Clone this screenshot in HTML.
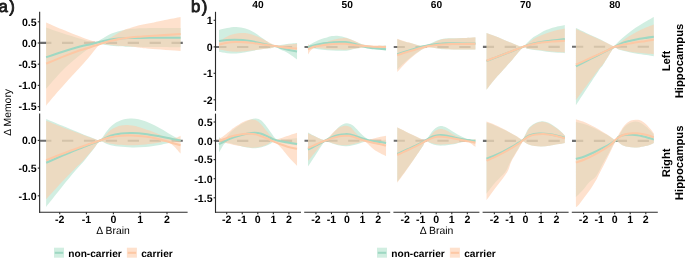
<!DOCTYPE html>
<html lang="en">
<head>
<meta charset="utf-8">
<title>Figure: memory change vs brain change by carrier status</title>
<style>
html,body{margin:0;padding:0;background:#fff;}
body{width:685px;height:262px;overflow:hidden;font-family:"Liberation Sans",sans-serif;}
svg{display:block;will-change:transform;}
svg text{font-family:"Liberation Sans",sans-serif;text-rendering:geometricPrecision;}
</style>
</head>
<body>
<svg width="685" height="262" viewBox="0 0 685 262" role="img" aria-label="Change in memory versus change in brain volume by carrier status">
<rect width="685" height="262" fill="#fff"/>
<defs>
<clipPath id="ca1"><rect x="39.1" y="11.8" width="148.5" height="99.1"/></clipPath>
<clipPath id="ca2"><rect x="39.1" y="113.6" width="148.5" height="98.4"/></clipPath>
<clipPath id="cb11"><rect x="215" y="11.8" width="86" height="99.1"/></clipPath>
<clipPath id="cb21"><rect x="304.2" y="11.8" width="86" height="99.1"/></clipPath>
<clipPath id="cb31"><rect x="393.4" y="11.8" width="86" height="99.1"/></clipPath>
<clipPath id="cb41"><rect x="482.6" y="11.8" width="86" height="99.1"/></clipPath>
<clipPath id="cb51"><rect x="571.8" y="11.8" width="86" height="99.1"/></clipPath>
<clipPath id="cb12"><rect x="215" y="113.6" width="86" height="98.4"/></clipPath>
<clipPath id="cb22"><rect x="304.2" y="113.6" width="86" height="98.4"/></clipPath>
<clipPath id="cb32"><rect x="393.4" y="113.6" width="86" height="98.4"/></clipPath>
<clipPath id="cb42"><rect x="482.6" y="113.6" width="86" height="98.4"/></clipPath>
<clipPath id="cb52"><rect x="571.8" y="113.6" width="86" height="98.4"/></clipPath>
</defs>
<g clip-path="url(#ca1)">
<line x1="40.1" y1="42.9" x2="187.6" y2="42.9" stroke="#6e6e6e" stroke-width="2.1" stroke-dasharray="11.3 10.6"/>
<path d="M46.13 27.52C48.76 28.43 56.35 31.17 61.9 32.99C67.45 34.82 74.31 36.97 79.42 38.47C84.53 39.96 89.38 41.57 92.55 41.97C95.73 42.37 96.46 41.64 98.47 40.88C100.47 40.11 102.77 38.43 104.6 37.37C106.42 36.31 107.88 35.29 109.42 34.53C110.95 33.76 112.26 33.32 113.8 32.77C115.33 32.23 117.01 31.68 118.61 31.24C120.22 30.8 121.2 30.55 123.43 30.15C125.66 29.74 128.72 29.16 131.97 28.83C135.22 28.5 138.54 28.32 142.92 28.18C147.3 28.03 151.97 27.99 158.25 27.96C164.53 27.92 176.86 27.96 180.58 27.96L180.58 47.23C175.4 47.19 158.32 47.08 149.49 47.01C140.66 46.93 133.07 46.9 127.59 46.79C122.12 46.68 120.29 46.64 116.64 46.35C112.99 46.06 108.61 45.51 105.69 45.04C102.77 44.56 101.5 43.21 99.12 43.5C96.75 43.8 94.64 44.85 91.46 46.79C88.28 48.72 83.91 52.12 80.07 55.11C76.24 58.1 72.23 61.31 68.47 64.74C64.71 68.18 61.24 71.68 57.52 75.69C53.8 79.71 48.03 86.64 46.13 88.83Z" fill="#B3E2CD" fill-opacity="0.6"/>
<path d="M46.13 22.48C48.76 23.61 56.35 26.97 61.9 29.27C67.45 31.57 74.31 34.34 79.42 36.28C84.53 38.21 88.76 39.96 92.55 40.88C96.35 41.79 99.45 42.12 102.19 41.75C104.93 41.39 107.04 39.67 108.98 38.69C110.91 37.7 112.19 36.82 113.8 35.84C115.4 34.85 117.01 33.69 118.61 32.77C120.22 31.86 121.82 31.06 123.43 30.36C125.04 29.67 126.5 29.23 128.25 28.61C130 27.99 131.5 27.34 133.94 26.64C136.39 25.95 139.6 25.15 142.92 24.45C146.24 23.76 150.22 23.21 153.87 22.48C157.52 21.75 160.36 20.99 164.82 20.07C169.27 19.16 177.96 17.52 180.58 17.01L180.58 50.95C175.4 50.58 156.61 49.34 149.49 48.76C142.37 48.18 141.42 47.85 137.88 47.45C134.34 47.04 131.46 46.64 128.25 46.35C125.04 46.06 121.82 45.95 118.61 45.69C115.4 45.44 111.57 45.15 108.98 44.82C106.39 44.49 104.71 43.69 103.07 43.72C101.42 43.76 101.17 43.18 99.12 45.04C97.08 46.9 93.98 51.17 90.8 54.89C87.63 58.61 83.8 63.25 80.07 67.37C76.35 71.5 72.23 75.51 68.47 79.64C64.71 83.76 61.24 87.77 57.52 92.12C53.8 96.46 48.03 103.43 46.13 105.69Z" fill="#FDCDAC" fill-opacity="0.6"/>
<path d="M46.13 57.3C48.76 56.42 56.24 53.83 61.9 52.04C67.55 50.26 75.44 47.85 80.07 46.57C84.71 45.29 86.5 45.15 89.71 44.38C92.92 43.61 96.13 42.74 99.34 41.97C102.55 41.2 105.77 40.36 108.98 39.78C112.19 39.2 115.4 38.76 118.61 38.47C121.82 38.18 125.04 38.1 128.25 38.03C131.46 37.96 134.34 38.07 137.88 38.03C141.42 37.99 142.37 37.85 149.49 37.81C156.61 37.77 175.4 37.81 180.58 37.81" fill="none" stroke="#9ED8C3" stroke-opacity="1.0" stroke-width="2.05"/>
<path d="M46.13 63.65C48.76 62.55 56.24 59.31 61.9 57.08C67.55 54.85 75.44 51.9 80.07 50.29C84.71 48.69 86.5 48.47 89.71 47.45C92.92 46.42 96.13 45.18 99.34 44.16C102.55 43.14 105.77 42.15 108.98 41.31C112.19 40.47 115.4 39.71 118.61 39.12C121.82 38.54 125.04 38.21 128.25 37.81C131.46 37.41 134.34 37.01 137.88 36.72C141.42 36.42 142.37 36.5 149.49 36.06C156.61 35.62 175.4 34.42 180.58 34.09" fill="none" stroke="#FDC8A5" stroke-opacity="1.0" stroke-width="2.05"/>
</g>
<g clip-path="url(#ca2)">
<line x1="40.1" y1="140.7" x2="187.6" y2="140.7" stroke="#6e6e6e" stroke-width="2.1" stroke-dasharray="11.3 10.6"/>
<path d="M46.13 119.01C48.76 120.1 56.35 123.28 61.9 125.58C67.45 127.88 74.09 130.65 79.42 132.8C84.74 134.96 90.44 137.29 93.87 138.5C97.3 139.7 97.92 141.16 100 140.03C102.08 138.9 104.31 134.19 106.35 131.71C108.39 129.23 109.82 127.04 112.26 125.14C114.71 123.24 118.1 121.42 121.02 120.32C123.94 119.23 126.86 118.75 129.78 118.57C132.7 118.39 135.26 118.5 138.54 119.23C141.82 119.96 145.84 121.42 149.49 122.95C153.14 124.48 156.79 126.42 160.44 128.42C164.09 130.43 168.03 133.06 171.39 134.99C174.74 136.93 179.05 139.19 180.58 140.03L180.58 141.12C178.69 141.45 172.92 142.4 169.2 143.09C165.47 143.79 162.26 144.63 158.25 145.28C154.23 145.94 149.49 146.67 145.11 147.04C140.73 147.4 136.35 147.55 131.97 147.47C127.59 147.4 122.77 147.11 118.83 146.6C114.89 146.09 111.46 145.25 108.32 144.41C105.18 143.57 102.41 140.83 100 141.56C97.59 142.29 96.39 145.72 93.87 148.79C91.35 151.85 88.03 156.23 84.89 159.96C81.75 163.68 78.87 166.6 75.04 171.12C71.2 175.65 66.72 181.12 61.9 187.11C57.08 193.09 48.76 203.72 46.13 207.04Z" fill="#B3E2CD" fill-opacity="0.6"/>
<path d="M46.13 120.76C48.76 121.78 56.35 124.77 61.9 126.89C67.45 129.01 74.09 131.49 79.42 133.46C84.74 135.43 90.44 137.62 93.87 138.72C97.3 139.81 97.88 140.83 100 140.03C102.12 139.23 104.53 135.72 106.57 133.9C108.61 132.07 109.85 130.47 112.26 129.08C114.67 127.69 118.1 126.23 121.02 125.58C123.94 124.92 126.86 124.92 129.78 125.14C132.7 125.36 135.26 125.98 138.54 126.89C141.82 127.8 145.84 129.26 149.49 130.61C153.14 131.96 157.15 133.72 160.44 134.99C163.72 136.27 166.64 137.8 169.2 138.28C171.75 138.75 173.87 138.28 175.77 137.84C177.66 137.4 179.78 136.01 180.58 135.65L180.58 153.61C179.42 152.33 175.84 147.95 173.58 145.94C171.31 143.93 169.56 142.11 167.01 141.56C164.45 141.01 161.9 142.18 158.25 142.66C154.6 143.13 149.49 143.97 145.11 144.41C140.73 144.85 136.35 145.21 131.97 145.28C127.59 145.36 122.77 145.18 118.83 144.85C114.89 144.52 111.46 143.9 108.32 143.31C105.18 142.73 102.41 140.5 100 141.34C97.59 142.18 96.57 145.25 93.87 148.35C91.17 151.45 86.93 156.6 83.8 159.96C80.66 163.31 78.69 164.81 75.04 168.5C71.39 172.18 66.72 176.93 61.9 182.07C57.08 187.22 48.76 196.49 46.13 199.37Z" fill="#FDCDAC" fill-opacity="0.6"/>
<path d="M46.13 162.8C48.76 161.64 56.35 158.17 61.9 155.8C67.45 153.42 73.07 151.12 79.42 148.57C85.77 146.01 94.82 142.62 100 140.47C105.18 138.31 107.01 136.82 110.51 135.65C114.01 134.48 117.45 133.9 121.02 133.46C124.6 133.02 127.96 132.95 131.97 133.02C135.99 133.09 140.73 133.39 145.11 133.9C149.49 134.41 153.87 135.28 158.25 136.09C162.63 136.89 167.66 137.99 171.39 138.72C175.11 139.45 179.05 140.18 180.58 140.47" fill="none" stroke="#9ED8C3" stroke-opacity="1.0" stroke-width="2.05"/>
<path d="M46.13 160.18C48.76 159.15 56.35 156.16 61.9 154.04C67.45 151.93 73.07 149.74 79.42 147.47C85.77 145.21 94.82 142.18 100 140.47C105.18 138.75 107.01 137.99 110.51 137.18C114.01 136.38 117.45 135.94 121.02 135.65C124.6 135.36 127.96 135.28 131.97 135.43C135.99 135.58 140.73 135.94 145.11 136.53C149.49 137.11 153.87 137.91 158.25 138.93C162.63 139.96 167.66 141.6 171.39 142.66C175.11 143.72 179.05 144.85 180.58 145.28" fill="none" stroke="#FDC8A5" stroke-opacity="1.0" stroke-width="2.05"/>
</g>
<g clip-path="url(#cb11)">
<line x1="215.15" y1="47" x2="301" y2="47" stroke="#6e6e6e" stroke-width="2.1" stroke-dasharray="11.3 10.6"/>
<path d="M218.99 29.91C220.35 29.58 224.25 28.45 227.14 27.94C230.03 27.44 233.27 26.78 236.34 26.89C239.4 27 242.69 27.77 245.53 28.6C248.38 29.43 251.01 30.57 253.42 31.88C255.82 33.2 257.8 34.95 259.99 36.48C262.18 38.01 264.58 39.7 266.55 41.08C268.53 42.46 270.28 43.93 271.81 44.76C273.34 45.59 274.48 46.01 275.75 46.07C277.02 46.14 277.79 45.46 279.43 45.15C281.07 44.85 283.57 44.52 285.61 44.23C287.64 43.95 289.74 43.64 291.65 43.45C293.55 43.25 296.14 43.12 297.04 43.05L297.04 59.47C296.12 58.82 293.42 56.8 291.52 55.53C289.61 54.26 287.62 52.95 285.61 51.85C283.59 50.76 281.07 49.86 279.43 48.96C277.79 48.07 276.63 46.75 275.75 46.47C274.88 46.18 274.79 47.01 274.18 47.26C273.56 47.5 272.91 47.74 272.07 47.91C271.24 48.09 270.98 48.07 269.18 48.31C267.39 48.55 263.93 48.96 261.3 49.36C258.67 49.75 256.04 50.19 253.42 50.67C250.79 51.15 248.38 51.79 245.53 52.25C242.69 52.71 239.4 53.28 236.34 53.43C233.27 53.58 230.03 53.43 227.14 53.17C224.25 52.91 220.35 52.07 218.99 51.85Z" fill="#B3E2CD" fill-opacity="0.6"/>
<path d="M218.99 41.74C220.35 40.86 224.47 37.8 227.14 36.48C229.81 35.17 232.61 34.45 235.02 33.85C237.43 33.26 239.4 33 241.59 32.93C243.78 32.87 245.75 32.93 248.16 33.46C250.57 33.99 253.39 35.06 256.04 36.09C258.69 37.12 261.69 38.47 264.06 39.64C266.42 40.8 268.7 42.18 270.23 43.05C271.77 43.93 272.34 44.39 273.26 44.89C274.18 45.39 274.24 46.01 275.75 46.07C277.26 46.14 279.91 45.57 282.32 45.28C284.73 45 287.75 44.63 290.2 44.36C292.66 44.1 295.9 43.82 297.04 43.71L297.04 50.01C295.46 49.8 290.47 49.14 287.58 48.7C284.69 48.26 281.66 47.76 279.69 47.39C277.72 47.01 276.67 46.49 275.75 46.47C274.83 46.45 274.79 47.01 274.18 47.26C273.56 47.5 272.91 47.74 272.07 47.91C271.24 48.09 270.98 48.09 269.18 48.31C267.39 48.53 263.93 48.9 261.3 49.23C258.67 49.55 256.04 49.93 253.42 50.28C250.79 50.63 248.38 51.07 245.53 51.33C242.69 51.59 239.4 51.92 236.34 51.85C233.27 51.79 230.03 51.31 227.14 50.93C224.25 50.56 220.35 49.84 218.99 49.62Z" fill="#FDCDAC" fill-opacity="0.6"/>
<path d="M218.99 41.08C220.35 40.91 224.47 40.25 227.14 40.03C229.81 39.81 232.39 39.77 235.02 39.77C237.65 39.77 240.28 39.81 242.91 40.03C245.53 40.25 248.16 40.64 250.79 41.08C253.42 41.52 256.04 42.09 258.67 42.66C261.3 43.23 264.15 43.97 266.55 44.5C268.96 45.02 271.37 45.46 273.12 45.81C274.88 46.16 275.53 46.18 277.07 46.6C278.6 47.01 280.35 47.74 282.32 48.31C284.29 48.88 286.44 49.47 288.89 50.01C291.34 50.56 295.68 51.33 297.04 51.59" fill="none" stroke="#9ED8C3" stroke-opacity="1.0" stroke-width="2.05"/>
<path d="M218.99 44.76C220.35 44.43 224.47 43.25 227.14 42.79C229.81 42.33 232.39 42.11 235.02 42C237.65 41.89 240.28 42 242.91 42.13C245.53 42.26 248.16 42.5 250.79 42.79C253.42 43.07 256.04 43.47 258.67 43.84C261.3 44.21 264.15 44.69 266.55 45.02C268.96 45.35 271.37 45.59 273.12 45.81C274.88 46.03 275.53 46.12 277.07 46.34C278.6 46.55 280.35 46.86 282.32 47.12C284.29 47.39 286.44 47.67 288.89 47.91C291.34 48.15 295.68 48.46 297.04 48.57" fill="none" stroke="#FDC8A5" stroke-opacity="1.0" stroke-width="2.05"/>
</g>
<g clip-path="url(#cb21)">
<line x1="304.35" y1="47" x2="390.2" y2="47" stroke="#6e6e6e" stroke-width="2.1" stroke-dasharray="11.3 10.6"/>
<path d="M307.99 46.34C308.19 46.14 307.97 45.9 309.18 45.15C310.38 44.41 313.18 42.88 315.22 41.87C317.26 40.86 319.34 39.88 321.39 39.11C323.45 38.34 325.84 37.77 327.57 37.27C329.3 36.77 330.18 36.35 331.77 36.09C333.37 35.82 335.17 35.56 337.16 35.69C339.15 35.82 341.74 36.37 343.73 36.88C345.72 37.38 347.19 37.95 349.12 38.72C351.04 39.48 353.23 40.6 355.29 41.47C357.35 42.35 359.43 43.34 361.47 43.97C363.5 44.61 365.43 44.96 367.51 45.28C369.59 45.61 371.56 45.85 373.95 45.94C376.34 46.03 379.82 45.88 381.83 45.81C383.85 45.74 385.34 45.59 386.04 45.55L386.04 50.54C385.01 50.39 381.92 49.91 379.86 49.62C377.8 49.34 375.55 49.12 373.69 48.83C371.82 48.55 370.23 48.13 368.69 47.91C367.16 47.69 365.91 47.5 364.49 47.52C363.07 47.54 361.69 47.82 360.15 48.04C358.62 48.26 356.93 48.53 355.29 48.83C353.65 49.14 352.01 49.58 350.3 49.88C348.59 50.19 347.3 50.54 345.04 50.67C342.79 50.8 339.68 50.74 336.77 50.67C333.85 50.61 330.64 50.52 327.57 50.28C324.5 50.04 320.72 49.53 318.37 49.23C316.03 48.92 315.24 48.59 313.51 48.44C311.78 48.28 308.91 48.33 307.99 48.31Z" fill="#B3E2CD" fill-opacity="0.6"/>
<path d="M307.99 44.1C308.47 44.39 309.53 45.7 310.88 45.81C312.24 45.92 314.39 45.15 316.14 44.76C317.89 44.36 319.91 43.84 321.39 43.45C322.88 43.05 323.54 42.88 325.07 42.39C326.61 41.91 328.64 41.1 330.59 40.55C332.54 40.01 334.8 39.5 336.77 39.11C338.74 38.72 340.6 38.3 342.42 38.19C344.23 38.08 345.7 38.01 347.67 38.45C349.64 38.89 352.05 39.9 354.24 40.82C356.43 41.74 358.4 43.16 360.81 43.97C363.22 44.78 366.07 45.35 368.69 45.68C371.32 46.01 373.69 45.92 376.58 45.94C379.47 45.96 384.46 45.83 386.04 45.81L386.04 48.44C384.9 48.42 381.66 48.39 379.2 48.31C376.75 48.22 373.77 48.07 371.32 47.91C368.87 47.76 366.35 47.39 364.49 47.39C362.63 47.39 361.69 47.72 360.15 47.91C358.62 48.11 356.93 48.33 355.29 48.57C353.65 48.81 352.01 49.16 350.3 49.36C348.59 49.55 347.3 49.71 345.04 49.75C342.79 49.8 339.68 49.71 336.77 49.62C333.85 49.53 330.13 49.4 327.57 49.23C325.01 49.05 323.45 48.81 321.39 48.57C319.34 48.33 316.64 47.76 315.22 47.78C313.8 47.8 313.69 48.18 312.85 48.7C312.02 49.23 311.04 49.97 310.23 50.93C309.42 51.9 308.36 53.89 307.99 54.48Z" fill="#FDCDAC" fill-opacity="0.6"/>
<path d="M307.99 47.12C308.91 46.84 311.28 45.99 313.51 45.42C315.74 44.85 319.05 44.12 321.39 43.71C323.74 43.29 325.53 43.16 327.57 42.92C329.61 42.68 331.58 42.42 333.61 42.26C335.65 42.11 337.88 42.02 339.79 42C341.69 41.98 342.85 41.89 345.04 42.13C347.23 42.37 350.3 42.85 352.93 43.45C355.55 44.04 358.38 45 360.81 45.68C363.24 46.36 365.36 47.08 367.51 47.52C369.66 47.96 371.63 48.09 373.69 48.31C375.74 48.53 377.8 48.68 379.86 48.83C381.92 48.99 385.01 49.16 386.04 49.23" fill="none" stroke="#9ED8C3" stroke-opacity="1.0" stroke-width="2.05"/>
<path d="M307.99 49.36C308.47 49.12 309.68 48.37 310.88 47.91C312.09 47.45 313.47 46.99 315.22 46.6C316.97 46.2 319.34 45.88 321.39 45.55C323.45 45.22 325.53 44.89 327.57 44.63C329.61 44.36 331.58 44.12 333.61 43.97C335.65 43.82 337.88 43.75 339.79 43.71C341.69 43.66 343.49 43.6 345.04 43.71C346.6 43.82 347.41 44.12 349.12 44.36C350.82 44.61 353.23 44.91 355.29 45.15C357.35 45.39 359.43 45.61 361.47 45.81C363.5 46.01 365.47 46.18 367.51 46.34C369.55 46.49 371.63 46.64 373.69 46.73C375.74 46.82 377.8 46.82 379.86 46.86C381.92 46.91 385.01 46.97 386.04 46.99" fill="none" stroke="#FDC8A5" stroke-opacity="1.0" stroke-width="2.05"/>
</g>
<g clip-path="url(#cb31)">
<line x1="393.55" y1="47" x2="479.4" y2="47" stroke="#6e6e6e" stroke-width="2.1" stroke-dasharray="11.3 10.6"/>
<path d="M397.26 39.24C398.57 39.68 402.99 41.23 405.14 41.87C407.28 42.5 408.27 42.57 410.13 43.05C411.99 43.53 414.27 44.3 416.31 44.76C418.34 45.22 420.31 45.88 422.35 45.81C424.39 45.74 426.47 45.07 428.53 44.36C430.58 43.66 432.66 42.46 434.7 41.61C436.74 40.75 438.86 39.77 440.74 39.24C442.63 38.72 444.05 38.61 446 38.45C447.95 38.3 449.61 38.39 452.44 38.32C455.26 38.26 459.12 38.19 462.95 38.06C466.78 37.93 473.35 37.62 475.43 37.53L475.43 49.49C472.91 49.51 465.23 49.64 460.32 49.62C455.42 49.6 449.26 49.47 446 49.36C442.74 49.25 442.63 49.2 440.74 48.96C438.86 48.72 436.74 48.2 434.7 47.91C432.66 47.63 429.97 47.28 428.53 47.26C427.08 47.23 427.06 47.45 426.03 47.78C425 48.11 423.64 48.55 422.35 49.23C421.06 49.91 419.83 50.8 418.28 51.85C416.72 52.91 415.21 53.82 413.02 55.53C410.83 57.24 407.77 59.74 405.14 62.1C402.51 64.47 398.57 68.45 397.26 69.72Z" fill="#B3E2CD" fill-opacity="0.6"/>
<path d="M397.26 38.85C398.57 39.31 402.99 40.95 405.14 41.61C407.28 42.26 408.27 42.28 410.13 42.79C411.99 43.29 414.27 44.12 416.31 44.63C418.34 45.13 420.31 45.79 422.35 45.81C424.39 45.83 426.47 45.37 428.53 44.76C430.58 44.15 432.66 42.96 434.7 42.13C436.74 41.3 438.86 40.31 440.74 39.77C442.63 39.22 444.05 39.04 446 38.85C447.95 38.65 449.61 38.72 452.44 38.58C455.26 38.45 459.12 38.3 462.95 38.06C466.78 37.82 473.35 37.29 475.43 37.14L475.43 49.62C472.91 49.6 465.23 49.55 460.32 49.49C455.42 49.42 449.26 49.34 446 49.23C442.74 49.12 442.63 49.05 440.74 48.83C438.86 48.61 436.74 48.15 434.7 47.91C432.66 47.67 429.97 47.39 428.53 47.39C427.08 47.39 427.06 47.58 426.03 47.91C425 48.24 423.64 48.64 422.35 49.36C421.06 50.08 419.83 51.11 418.28 52.25C416.72 53.39 415.21 54.33 413.02 56.19C410.83 58.05 407.77 60.77 405.14 63.42C402.51 66.07 398.57 70.64 397.26 72.09Z" fill="#FDCDAC" fill-opacity="0.6"/>
<path d="M397.26 54.22C398.99 53.67 404.46 51.92 407.64 50.93C410.81 49.95 413.85 49.05 416.31 48.31C418.76 47.56 420.31 46.99 422.35 46.47C424.39 45.94 426.47 45.53 428.53 45.15C430.58 44.78 432.66 44.47 434.7 44.23C436.74 43.99 438.86 43.86 440.74 43.71C442.63 43.55 444.05 43.38 446 43.31C447.95 43.25 449.61 43.29 452.44 43.31C455.26 43.34 459.12 43.4 462.95 43.45C466.78 43.49 473.35 43.55 475.43 43.58" fill="none" stroke="#9ED8C3" stroke-opacity="1.0" stroke-width="2.05"/>
<path d="M397.26 55.27C398.99 54.7 404.46 52.86 407.64 51.85C410.81 50.85 413.85 49.97 416.31 49.23C418.76 48.48 420.31 47.91 422.35 47.39C424.39 46.86 426.47 46.45 428.53 46.07C430.58 45.7 432.66 45.39 434.7 45.15C436.74 44.91 438.86 44.78 440.74 44.63C442.63 44.47 444.05 44.32 446 44.23C447.95 44.15 449.61 44.15 452.44 44.1C455.26 44.06 459.12 44.04 462.95 43.97C466.78 43.91 473.35 43.75 475.43 43.71" fill="none" stroke="#FDC8A5" stroke-opacity="1.0" stroke-width="2.05"/>
</g>
<g clip-path="url(#cb41)">
<line x1="482.75" y1="46.9" x2="568.6" y2="46.9" stroke="#6e6e6e" stroke-width="2.1" stroke-dasharray="11.3 10.6"/>
<path d="M486.52 32.88C487.79 33.36 491.55 34.74 494.14 35.77C496.72 36.8 499.39 37.96 502.02 39.05C504.65 40.15 507.28 41.24 509.91 42.34C512.53 43.43 515.6 44.9 517.79 45.62C519.98 46.34 521.29 47.33 523.04 46.67C524.8 46.01 526.55 43.28 528.3 41.68C530.05 40.08 531.58 38.5 533.55 37.08C535.53 35.66 537.93 34.34 540.12 33.14C542.31 31.93 544.28 30.84 546.69 29.85C549.1 28.87 551.55 28.04 554.58 27.23C557.6 26.42 563.12 25.36 564.82 24.99L564.82 53.24C563.99 53.18 562.42 53.04 559.83 52.85C557.25 52.65 552.82 52.43 549.32 52.06C545.82 51.69 541.88 51.05 538.81 50.61C535.74 50.18 532.92 49.76 530.93 49.43C528.93 49.1 528.17 48.95 526.85 48.64C525.54 48.34 525.43 45.8 523.04 47.59C520.66 49.39 516.15 55.34 512.53 59.42C508.92 63.49 504.43 68.61 501.36 72.03C498.3 75.45 496.61 76.98 494.14 79.91C491.66 82.85 487.79 88.01 486.52 89.64Z" fill="#B3E2CD" fill-opacity="0.6"/>
<path d="M486.52 32.88C487.79 33.36 491.55 34.74 494.14 35.77C496.72 36.8 499.39 37.96 502.02 39.05C504.65 40.15 507.28 41.24 509.91 42.34C512.53 43.43 515.6 44.9 517.79 45.62C519.98 46.34 521.29 47.11 523.04 46.67C524.8 46.23 526.55 44.26 528.3 42.99C530.05 41.72 531.58 40.26 533.55 39.05C535.53 37.85 537.93 36.75 540.12 35.77C542.31 34.78 544.28 33.97 546.69 33.14C549.1 32.31 551.55 31.54 554.58 30.77C557.6 30.01 563.12 28.91 564.82 28.54L564.82 52.32C563.99 52.26 562.42 52.12 559.83 51.93C557.25 51.73 552.82 51.47 549.32 51.14C545.82 50.81 541.88 50.31 538.81 49.96C535.74 49.61 532.92 49.28 530.93 49.04C528.93 48.8 528.17 48.75 526.85 48.51C525.54 48.27 525.43 45.77 523.04 47.59C520.66 49.41 516.15 55.34 512.53 59.42C508.92 63.49 504.43 68.61 501.36 72.03C498.3 75.45 496.61 76.98 494.14 79.91C491.66 82.85 487.79 88.01 486.52 89.64Z" fill="#FDCDAC" fill-opacity="0.6"/>
<path d="M486.52 60.99C487.79 60.51 491.12 59.26 494.14 58.1C497.16 56.94 501.58 55.21 504.65 54.03C507.72 52.85 509.91 52.04 512.53 51.01C515.16 49.98 518.23 48.71 520.42 47.85C522.61 47 523.48 46.63 525.67 45.88C527.86 45.14 530.93 44.04 533.55 43.39C536.18 42.73 538.37 42.4 541.44 41.94C544.5 41.48 548.05 41.11 551.95 40.63C555.85 40.15 562.68 39.31 564.82 39.05" fill="none" stroke="#9ED8C3" stroke-opacity="1.0" stroke-width="2.05"/>
<path d="M486.52 60.73C487.79 60.25 491.12 58.98 494.14 57.84C497.16 56.7 501.58 55.06 504.65 53.9C507.72 52.74 509.91 51.88 512.53 50.88C515.16 49.87 518.23 48.66 520.42 47.85C522.61 47.04 523.48 46.67 525.67 46.01C527.86 45.36 530.93 44.48 533.55 43.91C536.18 43.34 538.37 43.01 541.44 42.6C544.5 42.18 548.05 41.72 551.95 41.42C555.85 41.11 562.68 40.87 564.82 40.76" fill="none" stroke="#FDC8A5" stroke-opacity="1.0" stroke-width="2.05"/>
</g>
<g clip-path="url(#cb51)">
<line x1="571.95" y1="46.8" x2="657.8" y2="46.8" stroke="#6e6e6e" stroke-width="2.1" stroke-dasharray="11.3 10.6"/>
<path d="M575.91 28.03C577.55 28.8 582.37 31.03 585.77 32.63C589.16 34.23 592.99 36.02 596.28 37.62C599.56 39.22 602.63 40.8 605.47 42.22C608.32 43.64 611.72 45.72 613.36 46.16C615 46.6 614.23 45.83 615.33 44.85C616.42 43.86 618.28 41.78 619.93 40.25C621.57 38.72 623.21 37.29 625.18 35.65C627.15 34.01 629.34 32.15 631.75 30.39C634.16 28.64 637.01 26.78 639.64 25.14C642.26 23.5 645.15 21.9 647.52 20.54C649.88 19.18 652.77 17.58 653.82 16.99L653.82 56.15C652.55 55.97 649.23 55.53 646.2 55.09C643.18 54.66 639.2 54.15 635.69 53.52C632.19 52.88 628.14 52.01 625.18 51.28C622.23 50.56 619.75 49.88 617.96 49.18C616.16 48.48 615.39 46.88 614.41 47.08C613.42 47.28 613.09 48.77 612.04 50.36C610.99 51.96 609.64 54.2 608.1 56.67C606.57 59.15 604.34 63 602.85 65.21C601.36 67.42 601.8 66.11 599.17 69.94C596.54 73.77 590.96 82.34 587.08 88.2C583.2 94.07 577.77 102.33 575.91 105.15Z" fill="#B3E2CD" fill-opacity="0.6"/>
<path d="M575.91 29.08C577.55 29.8 582.37 31.93 585.77 33.42C589.16 34.91 592.99 36.53 596.28 38.01C599.56 39.5 602.63 40.99 605.47 42.35C608.32 43.71 611.5 45.74 613.36 46.16C615.22 46.58 615.11 45.77 616.64 44.85C618.18 43.93 620.47 42.07 622.55 40.64C624.64 39.22 626.72 37.8 629.12 36.31C631.53 34.82 634.38 33.09 637.01 31.71C639.64 30.33 642.09 29.23 644.89 28.03C647.69 26.82 652.34 25.07 653.82 24.48L653.82 54.18C652.55 54.07 649.23 53.8 646.2 53.52C643.18 53.23 639.2 52.95 635.69 52.47C632.19 51.99 628.14 51.22 625.18 50.63C622.23 50.04 619.75 49.51 617.96 48.92C616.16 48.33 615.39 46.86 614.41 47.08C613.42 47.3 613.09 48.68 612.04 50.23C610.99 51.79 609.64 54.02 608.1 56.41C606.57 58.8 604.49 62.3 602.85 64.55C601.2 66.81 600.88 66.55 598.25 69.94C595.62 73.34 590.8 79.91 587.08 84.92C583.36 89.93 577.77 97.51 575.91 100.03Z" fill="#FDCDAC" fill-opacity="0.6"/>
<path d="M575.91 66.26C577.55 65.43 582.37 62.98 585.77 61.27C589.16 59.56 592.99 57.66 596.28 56.01C599.56 54.37 602.41 52.95 605.47 51.42C608.54 49.88 611.82 48.24 614.67 46.82C617.52 45.39 619.93 43.91 622.55 42.88C625.18 41.85 627.59 41.34 630.44 40.64C633.28 39.94 636.79 39.18 639.64 38.67C642.48 38.17 645.15 37.95 647.52 37.62C649.88 37.29 652.77 36.85 653.82 36.7" fill="none" stroke="#9ED8C3" stroke-opacity="1.0" stroke-width="2.05"/>
<path d="M575.91 64.69C577.55 63.92 582.37 61.64 585.77 60.09C589.16 58.53 592.99 56.85 596.28 55.36C599.56 53.87 602.41 52.58 605.47 51.15C608.54 49.73 611.39 47.98 614.67 46.82C617.96 45.66 622.12 44.85 625.18 44.19C628.25 43.53 630.22 43.31 633.07 42.88C635.91 42.44 638.8 42.11 642.26 41.56C645.72 41.01 651.9 39.92 653.82 39.59" fill="none" stroke="#FDC8A5" stroke-opacity="1.0" stroke-width="2.05"/>
</g>
<g clip-path="url(#cb12)">
<line x1="215.15" y1="140.9" x2="301" y2="140.9" stroke="#6e6e6e" stroke-width="2.1" stroke-dasharray="11.3 10.6"/>
<path d="M218.99 136.99C219.47 137.43 220.96 139.25 221.88 139.62C222.8 139.99 223.64 139.77 224.51 139.23C225.39 138.68 226.04 137.58 227.14 136.34C228.23 135.09 229.33 133.38 231.08 131.74C232.83 130.09 235.46 128.01 237.65 126.48C239.84 124.95 242.03 123.7 244.22 122.54C246.41 121.38 248.82 120.18 250.79 119.52C252.76 118.86 254.29 118.42 256.04 118.6C257.8 118.77 259.55 119.26 261.3 120.57C263.05 121.88 264.8 124.29 266.55 126.48C268.31 128.67 270.28 131.67 271.81 133.71C273.34 135.74 274.44 137.72 275.75 138.7C277.07 139.69 277.72 139.58 279.69 139.62C281.66 139.66 284.69 139.18 287.58 138.96C290.47 138.74 295.46 138.42 297.04 138.31L297.04 145.53C295.46 145.29 290.47 144.59 287.58 144.09C284.69 143.58 281.88 142.95 279.69 142.51C277.5 142.07 275.97 141.26 274.44 141.46C272.91 141.66 272.25 142.84 270.5 143.69C268.74 144.55 266.12 145.86 263.93 146.58C261.74 147.31 259.55 147.79 257.36 148.03C255.17 148.27 253.2 148.25 250.79 148.03C248.38 147.81 245.53 147.28 242.91 146.72C240.28 146.15 237.43 145.29 235.02 144.61C232.61 143.93 230.2 142.8 228.45 142.64C226.7 142.49 225.65 142.82 224.51 143.69C223.37 144.57 222.54 146.45 221.62 147.9C220.7 149.34 219.43 151.62 218.99 152.36Z" fill="#B3E2CD" fill-opacity="0.6"/>
<path d="M218.99 138.96C219.91 138.35 222.5 136.8 224.51 135.28C226.53 133.77 229.5 131.15 231.08 129.9C232.66 128.65 232.88 128.56 233.97 127.8C235.07 127.03 235.94 126.35 237.65 125.3C239.36 124.25 242.03 122.45 244.22 121.49C246.41 120.53 248.82 119.72 250.79 119.52C252.76 119.32 254.29 119.47 256.04 120.31C257.8 121.14 259.55 122.72 261.3 124.51C263.05 126.31 264.8 129 266.55 131.08C268.31 133.16 270.28 135.64 271.81 136.99C273.34 138.35 274 139.12 275.75 139.23C277.5 139.34 279.91 138.35 282.32 137.65C284.73 136.95 287.75 135.83 290.2 135.02C292.66 134.21 295.9 133.16 297.04 132.79L297.04 165.9C296.34 165.18 294.41 163.27 292.83 161.56C291.26 159.85 289.55 157.95 287.58 155.65C285.61 153.35 282.98 149.96 281.01 147.77C279.04 145.58 277.28 143.56 275.75 142.51C274.22 141.46 273.34 141.09 271.81 141.46C270.28 141.83 268.74 143.78 266.55 144.74C264.36 145.71 261.3 146.76 258.67 147.24C256.04 147.72 253.85 147.83 250.79 147.64C247.72 147.44 243.56 146.63 240.28 146.06C236.99 145.49 233.71 144.77 231.08 144.22C228.45 143.67 226.53 143.17 224.51 142.77C222.5 142.38 219.91 142.01 218.99 141.85Z" fill="#FDCDAC" fill-opacity="0.6"/>
<path d="M218.99 144.22C219.91 143.74 222.5 142.31 224.51 141.33C226.53 140.34 228.67 139.25 231.08 138.31C233.49 137.36 236.34 136.45 238.96 135.68C241.59 134.91 244.22 134.19 246.85 133.71C249.47 133.23 252.32 132.79 254.73 132.79C257.14 132.79 259.11 133.07 261.3 133.71C263.49 134.34 265.68 135.61 267.87 136.6C270.06 137.58 272.03 138.79 274.44 139.62C276.85 140.45 279.69 141.04 282.32 141.59C284.95 142.14 287.75 142.51 290.2 142.91C292.66 143.3 295.9 143.78 297.04 143.96" fill="none" stroke="#9ED8C3" stroke-opacity="1.0" stroke-width="2.05"/>
<path d="M218.99 140.93C219.91 140.61 222.5 139.69 224.51 138.96C226.53 138.24 228.67 137.3 231.08 136.6C233.49 135.9 236.34 135.24 238.96 134.76C241.59 134.28 244.44 133.84 246.85 133.71C249.26 133.58 251.23 133.64 253.42 133.97C255.61 134.3 257.8 134.96 259.99 135.68C262.18 136.4 264.36 137.36 266.55 138.31C268.74 139.25 270.93 140.39 273.12 141.33C275.31 142.27 277.28 143.06 279.69 143.96C282.1 144.85 284.69 145.91 287.58 146.72C290.47 147.53 295.46 148.47 297.04 148.82" fill="none" stroke="#FDC8A5" stroke-opacity="1.0" stroke-width="2.05"/>
</g>
<g clip-path="url(#cb22)">
<line x1="304.35" y1="140.8" x2="390.2" y2="140.8" stroke="#6e6e6e" stroke-width="2.1" stroke-dasharray="11.3 10.6"/>
<path d="M307.99 132.48C308.91 132.99 311.5 134.45 313.51 135.5C315.53 136.55 318.22 138.07 320.08 138.79C321.94 139.51 323.15 140.12 324.68 139.84C326.21 139.55 327.64 138.48 329.28 137.08C330.92 135.68 332.89 133.16 334.53 131.43C336.18 129.7 337.71 127.91 339.13 126.7C340.55 125.5 341.82 124.77 343.07 124.2C344.32 123.64 345.46 123.33 346.62 123.28C347.78 123.24 348.88 123.48 350.04 123.94C351.2 124.4 352.23 124.93 353.58 126.04C354.94 127.16 356.63 129.07 358.18 130.64C359.74 132.22 361.31 134.12 362.91 135.5C364.51 136.88 366.37 138.18 367.77 138.92C369.18 139.66 369.64 139.8 371.32 139.97C373.01 140.15 375.44 140.01 377.89 139.97C380.34 139.93 384.68 139.75 386.04 139.71L386.04 144.31C384.46 144.09 379.47 143.54 376.58 142.99C373.69 142.45 370.66 141.24 368.69 141.02C366.72 140.8 366.28 141.28 364.75 141.68C363.22 142.07 361.47 142.8 359.5 143.39C357.53 143.98 355.12 144.74 352.93 145.23C350.74 145.71 348.55 146.21 346.36 146.28C344.17 146.34 341.98 146.06 339.79 145.62C337.6 145.18 335.19 144.26 333.22 143.65C331.25 143.04 329.43 142.2 327.96 141.94C326.5 141.68 325.51 141.39 324.42 142.07C323.32 142.75 322.99 143.67 321.39 146.01C319.8 148.36 317.06 152.74 314.82 156.13C312.59 159.53 309.13 164.67 307.99 166.38Z" fill="#B3E2CD" fill-opacity="0.6"/>
<path d="M307.99 133.14C308.91 133.58 311.5 134.82 313.51 135.77C315.53 136.71 318.22 138.11 320.08 138.79C321.94 139.47 323.15 140.19 324.68 139.84C326.21 139.49 327.7 138.07 329.28 136.69C330.85 135.31 332.54 133.05 334.14 131.56C335.74 130.07 337.42 128.65 338.87 127.75C340.31 126.85 341.63 126.5 342.81 126.18C343.99 125.85 344.93 125.74 345.96 125.78C346.99 125.82 348.07 126.09 348.99 126.44C349.91 126.79 350.43 126.88 351.48 127.88C352.53 128.89 354.18 131.23 355.29 132.48C356.41 133.73 357.15 134.43 358.18 135.37C359.21 136.31 360.26 137.36 361.47 138.13C362.67 138.9 364.09 139.73 365.41 139.97C366.72 140.21 367.82 139.86 369.35 139.58C370.88 139.29 372.74 138.72 374.61 138.26C376.47 137.8 378.61 137.23 380.52 136.82C382.42 136.4 385.12 135.94 386.04 135.77L386.04 156.26C385.01 155.74 381.88 154.25 379.86 153.11C377.85 151.97 375.59 150.61 373.95 149.43C372.31 148.25 371.28 147.15 370.01 146.01C368.74 144.88 367.38 143.34 366.33 142.6C365.28 141.85 364.84 141.55 363.7 141.55C362.56 141.55 361.29 142.14 359.5 142.6C357.7 143.06 355.12 143.87 352.93 144.31C350.74 144.74 348.55 145.12 346.36 145.23C344.17 145.34 341.98 145.27 339.79 144.96C337.6 144.66 335.19 143.91 333.22 143.39C331.25 142.86 329.54 142.03 327.96 141.81C326.39 141.59 325.18 141.22 323.76 142.07C322.34 142.93 320.91 145.14 319.42 146.93C317.93 148.73 316.73 150.48 314.82 152.85C312.92 155.21 309.13 159.74 307.99 161.12Z" fill="#FDCDAC" fill-opacity="0.6"/>
<path d="M307.99 149.56C308.91 149.12 311.5 147.96 313.51 146.93C315.53 145.91 318.11 144.44 320.08 143.39C322.05 142.34 323.36 141.68 325.34 140.63C327.31 139.58 329.72 138 331.91 137.08C334.09 136.16 336.28 135.59 338.47 135.11C340.66 134.63 343.07 134.3 345.04 134.19C347.01 134.08 348.55 134.15 350.3 134.45C352.05 134.76 353.8 135.44 355.55 136.03C357.31 136.62 358.84 137.34 360.81 138C362.78 138.66 365.19 139.42 367.38 139.97C369.57 140.52 371.76 140.93 373.95 141.28C376.14 141.64 378.5 141.79 380.52 142.07C382.53 142.36 385.12 142.84 386.04 142.99" fill="none" stroke="#9ED8C3" stroke-opacity="1.0" stroke-width="2.05"/>
<path d="M307.99 147.85C308.91 147.48 311.5 146.5 313.51 145.62C315.53 144.74 318.11 143.43 320.08 142.6C322.05 141.77 323.36 141.37 325.34 140.63C327.31 139.88 329.72 138.83 331.91 138.13C334.09 137.43 336.28 136.82 338.47 136.42C340.66 136.03 343.29 135.88 345.04 135.77C346.8 135.66 347.45 135.55 348.99 135.77C350.52 135.99 352.49 136.53 354.24 137.08C355.99 137.63 357.53 138.39 359.5 139.05C361.47 139.71 363.66 140.36 366.07 141.02C368.47 141.68 371.54 142.45 373.95 142.99C376.36 143.54 378.5 143.87 380.52 144.31C382.53 144.74 385.12 145.4 386.04 145.62" fill="none" stroke="#FDC8A5" stroke-opacity="1.0" stroke-width="2.05"/>
</g>
<g clip-path="url(#cb32)">
<line x1="393.55" y1="140.8" x2="479.4" y2="140.8" stroke="#6e6e6e" stroke-width="2.1" stroke-dasharray="11.3 10.6"/>
<path d="M397.26 127.62C398.57 128.26 402.51 130.16 405.14 131.43C407.77 132.7 410.39 133.99 413.02 135.24C415.65 136.49 418.82 138.07 420.91 138.92C422.99 139.77 424.41 140.45 425.5 140.36C426.6 140.28 426.49 139.71 427.47 138.39C428.46 137.08 430.1 134.19 431.42 132.48C432.73 130.77 433.82 129.24 435.36 128.15C436.89 127.05 438.86 126.07 440.61 125.91C442.36 125.76 444.12 126.46 445.87 127.23C447.62 127.99 449.15 129.31 451.12 130.51C453.09 131.72 455.5 133.25 457.69 134.45C459.88 135.66 462.07 136.86 464.26 137.74C466.45 138.61 468.97 139.38 470.83 139.71C472.69 140.04 474.66 139.71 475.43 139.71L475.43 142.07C474.23 141.9 470.5 140.98 468.2 141.02C465.91 141.07 463.82 141.85 461.64 142.34C459.45 142.82 457.26 143.47 455.07 143.91C452.88 144.35 450.69 144.68 448.5 144.96C446.31 145.25 443.9 145.58 441.93 145.62C439.96 145.66 438.42 145.55 436.67 145.23C434.92 144.9 433.28 144.31 431.42 143.65C429.55 142.99 426.93 140.89 425.5 141.28C424.08 141.68 424.85 142.99 422.88 146.01C420.91 149.04 416.64 155.21 413.68 159.42C410.72 163.62 407.88 167.52 405.14 171.24C402.4 174.96 398.57 180 397.26 181.75Z" fill="#B3E2CD" fill-opacity="0.6"/>
<path d="M397.26 127.23C398.57 127.88 402.51 129.85 405.14 131.17C407.77 132.48 410.39 133.84 413.02 135.11C415.65 136.38 418.82 137.91 420.91 138.79C422.99 139.66 424.41 140.32 425.5 140.36C426.6 140.41 426.49 140.04 427.47 139.05C428.46 138.07 430.1 135.83 431.42 134.45C432.73 133.07 433.82 131.69 435.36 130.77C436.89 129.85 438.86 129.02 440.61 128.93C442.36 128.85 444.12 129.55 445.87 130.25C447.62 130.95 449.15 132.11 451.12 133.14C453.09 134.17 455.5 135.44 457.69 136.42C459.88 137.41 462.29 138.39 464.26 139.05C466.23 139.71 467.99 140.26 469.52 140.36C471.05 140.47 472.47 139.97 473.46 139.71C474.45 139.45 475.1 138.94 475.43 138.79L475.43 146.93C474.66 146.34 472.26 144.33 470.83 143.39C469.41 142.45 468.42 141.5 466.89 141.28C465.36 141.07 463.61 141.72 461.64 142.07C459.66 142.42 457.26 143.06 455.07 143.39C452.88 143.72 450.69 143.85 448.5 144.04C446.31 144.24 443.9 144.53 441.93 144.57C439.96 144.61 438.42 144.57 436.67 144.31C434.92 144.04 433.28 143.5 431.42 142.99C429.55 142.49 426.93 140.78 425.5 141.28C424.08 141.79 424.85 142.93 422.88 146.01C420.91 149.1 416.64 155.47 413.68 159.81C410.72 164.15 407.88 168.2 405.14 172.03C402.4 175.86 398.57 181.01 397.26 182.8Z" fill="#FDCDAC" fill-opacity="0.6"/>
<path d="M397.26 153.9C397.69 153.72 398.13 153.64 399.88 152.85C401.64 152.06 405.14 150.37 407.77 149.17C410.39 147.96 413.02 146.87 415.65 145.62C418.28 144.37 421.12 142.99 423.53 141.68C425.94 140.36 428.13 138.72 430.1 137.74C432.07 136.75 433.61 136.2 435.36 135.77C437.11 135.33 438.64 135.11 440.61 135.11C442.58 135.11 444.77 135.33 447.18 135.77C449.59 136.2 452.44 137.15 455.07 137.74C457.69 138.33 460.54 138.88 462.95 139.31C465.36 139.75 467.44 140.12 469.52 140.36C471.6 140.61 474.45 140.69 475.43 140.76" fill="none" stroke="#9ED8C3" stroke-opacity="1.0" stroke-width="2.05"/>
<path d="M397.26 154.95C398.57 154.34 402.51 152.5 405.14 151.27C407.77 150.04 410.39 148.86 413.02 147.59C415.65 146.32 418.72 144.79 420.91 143.65C423.09 142.51 424.41 141.64 426.16 140.76C427.91 139.88 429.66 139.05 431.42 138.39C433.17 137.74 434.92 137.1 436.67 136.82C438.42 136.53 439.96 136.58 441.93 136.69C443.9 136.8 446.09 137.08 448.5 137.47C450.91 137.87 453.75 138.53 456.38 139.05C459.01 139.58 461.85 140.17 464.26 140.63C466.67 141.09 468.97 141.44 470.83 141.81C472.69 142.18 474.66 142.69 475.43 142.86" fill="none" stroke="#FDC8A5" stroke-opacity="1.0" stroke-width="2.05"/>
</g>
<g clip-path="url(#cb42)">
<line x1="482.75" y1="140.9" x2="568.6" y2="140.9" stroke="#6e6e6e" stroke-width="2.1" stroke-dasharray="11.3 10.6"/>
<path d="M486.52 122.54C487.79 122.98 491.55 124.14 494.14 125.17C496.72 126.2 499.39 127.47 502.02 128.72C504.65 129.96 507.61 131.45 509.91 132.66C512.2 133.86 514.04 134.87 515.82 135.94C517.59 137.01 519.47 138.39 520.55 139.09C521.62 139.8 521.75 140.34 522.26 140.15C522.76 139.95 522.89 139.2 523.57 137.91C524.25 136.62 525.39 134.12 526.33 132.39C527.27 130.66 527.93 128.98 529.22 127.53C530.51 126.09 532.46 124.69 534.08 123.72C535.7 122.76 537.5 122.17 538.94 121.75C540.39 121.34 541.15 121.07 542.75 121.23C544.35 121.38 546.78 121.95 548.53 122.67C550.28 123.39 551.66 124.51 553.26 125.56C554.86 126.61 556.68 127.84 558.12 128.98C559.57 130.12 560.82 131.32 561.93 132.39C563.05 133.47 564.34 134.91 564.82 135.42L564.82 142.91C563.55 143.15 559.79 143.89 557.2 144.35C554.62 144.81 551.95 145.31 549.32 145.66C546.69 146.01 543.85 146.41 541.44 146.45C539.03 146.5 537.01 146.26 534.87 145.93C532.72 145.6 530.55 145.27 528.56 144.48C526.57 143.69 524.05 141.5 522.91 141.2C521.77 140.89 522.69 141.09 521.73 142.64C520.77 144.2 518.99 147.35 517.13 150.53C515.27 153.7 512.53 158.12 510.56 161.69C508.59 165.26 507.82 168.5 505.31 171.94C502.79 175.38 498.58 178.69 495.45 182.32C492.32 185.96 488.01 191.85 486.52 193.75Z" fill="#B3E2CD" fill-opacity="0.6"/>
<path d="M486.52 121.62C487.79 122.1 491.55 123.42 494.14 124.51C496.72 125.61 499.39 126.88 502.02 128.19C504.65 129.5 507.61 131.12 509.91 132.39C512.2 133.66 514.04 134.72 515.82 135.81C517.59 136.91 519.47 138.24 520.55 138.96C521.62 139.69 521.73 140.28 522.26 140.15C522.78 140.01 522.98 139.4 523.7 138.18C524.42 136.95 525.63 134.47 526.59 132.79C527.55 131.1 528.21 129.48 529.48 128.06C530.75 126.64 532.64 125.21 534.21 124.25C535.79 123.28 537.52 122.69 538.94 122.28C540.36 121.86 541.18 121.6 542.75 121.75C544.33 121.91 546.69 122.5 548.4 123.2C550.11 123.9 551.42 124.95 553 125.96C554.58 126.96 556.39 128.15 557.86 129.24C559.33 130.34 560.64 131.5 561.8 132.53C562.96 133.55 564.32 134.93 564.82 135.42L564.82 142.91C563.55 143.15 559.79 143.89 557.2 144.35C554.62 144.81 551.95 145.31 549.32 145.66C546.69 146.01 543.85 146.41 541.44 146.45C539.03 146.5 537.01 146.26 534.87 145.93C532.72 145.6 530.55 145.27 528.56 144.48C526.57 143.69 524.01 141.5 522.91 141.2C521.82 140.89 522.87 141.09 521.99 142.64C521.12 144.2 519.45 147.35 517.66 150.53C515.86 153.7 512.95 158.12 511.22 161.69C509.49 165.26 509.69 167.85 507.28 171.94C504.87 176.04 500.23 181.55 496.77 186.26C493.31 190.97 488.23 197.87 486.52 200.19Z" fill="#FDCDAC" fill-opacity="0.6"/>
<path d="M486.52 158.8C487.79 158.3 491.55 156.88 494.14 155.78C496.72 154.69 499.39 153.55 502.02 152.23C504.65 150.92 507.5 149.26 509.91 147.9C512.31 146.54 514.37 145.36 516.47 144.09C518.58 142.82 520.88 141.44 522.52 140.28C524.16 139.12 525.21 137.91 526.33 137.12C527.45 136.34 527.93 136.05 529.22 135.55C530.51 135.04 532.46 134.43 534.08 134.1C535.7 133.77 537.06 133.64 538.94 133.58C540.82 133.51 543.21 133.53 545.38 133.71C547.55 133.88 549.76 134.23 551.95 134.63C554.14 135.02 556.37 135.57 558.52 136.07C560.66 136.58 563.77 137.39 564.82 137.65" fill="none" stroke="#9ED8C3" stroke-opacity="1.0" stroke-width="2.05"/>
<path d="M486.52 160.64C487.79 160.09 491.55 158.56 494.14 157.36C496.72 156.15 499.07 154.99 502.02 153.42C504.98 151.84 509.03 149.56 511.88 147.9C514.72 146.23 517.28 144.7 519.1 143.43C520.92 142.16 521.58 141.22 522.78 140.28C523.99 139.34 525.26 138.46 526.33 137.78C527.4 137.1 527.93 136.71 529.22 136.2C530.51 135.7 532.46 135.09 534.08 134.76C535.7 134.43 537.34 134.34 538.94 134.23C540.54 134.12 542.07 134.06 543.67 134.1C545.27 134.15 546.93 134.3 548.53 134.5C550.13 134.69 551.66 134.96 553.26 135.28C554.86 135.61 556.68 136.12 558.12 136.47C559.57 136.82 560.82 137.08 561.93 137.39C563.05 137.69 564.34 138.15 564.82 138.31" fill="none" stroke="#FDC8A5" stroke-opacity="1.0" stroke-width="2.05"/>
</g>
<g clip-path="url(#cb52)">
<line x1="571.95" y1="140.9" x2="657.8" y2="140.9" stroke="#6e6e6e" stroke-width="2.1" stroke-dasharray="11.3 10.6"/>
<path d="M575.91 121.88C577.12 122.21 580.62 123.04 583.14 123.85C585.66 124.66 588.39 125.65 591.02 126.74C593.65 127.84 596.28 129.09 598.91 130.42C601.53 131.76 604.38 133.34 606.79 134.76C609.2 136.18 611.82 137.98 613.36 138.96C614.89 139.95 615.22 140.89 615.99 140.67C616.75 140.45 617.1 139.12 617.96 137.65C618.81 136.18 620.1 133.55 621.11 131.87C622.12 130.18 622.86 128.82 624 127.53C625.14 126.24 626.65 124.99 627.94 124.12C629.23 123.24 630.48 122.69 631.75 122.28C633.02 121.86 634.29 121.62 635.56 121.62C636.83 121.62 638.08 121.8 639.37 122.28C640.66 122.76 642.02 123.64 643.31 124.51C644.61 125.39 645.85 126.39 647.12 127.53C648.39 128.67 649.82 130.14 650.93 131.34C652.05 132.55 653.34 134.19 653.82 134.76L653.82 143.04C653.21 143.32 651.85 144.18 650.15 144.74C648.44 145.31 645.99 145.99 643.58 146.45C641.17 146.91 638.1 147.39 635.69 147.5C633.28 147.61 631.31 147.48 629.12 147.11C626.93 146.74 624.64 146.23 622.55 145.27C620.47 144.31 618.07 141.66 616.64 141.33C615.22 141 615.33 141.33 614.01 143.3C612.7 145.27 610.62 149.76 608.76 153.15C606.9 156.55 604.93 159.88 602.85 163.66C600.77 167.45 598.47 172.86 596.28 175.88C594.09 178.91 591.9 179.5 589.71 181.8C587.52 184.09 585.44 187.14 583.14 189.68C580.84 192.22 577.12 195.81 575.91 197.04Z" fill="#B3E2CD" fill-opacity="0.6"/>
<path d="M575.91 119.26C577.12 119.65 580.62 120.64 583.14 121.62C585.66 122.61 588.39 123.85 591.02 125.17C593.65 126.48 596.28 127.97 598.91 129.5C601.53 131.04 604.38 132.79 606.79 134.36C609.2 135.94 611.82 137.91 613.36 138.96C614.89 140.01 615.18 141.28 615.99 140.67C616.8 140.06 617.36 136.99 618.22 135.28C619.07 133.58 620.15 131.96 621.11 130.42C622.07 128.89 622.86 127.45 624 126.09C625.14 124.73 626.65 123.24 627.94 122.28C629.23 121.31 630.48 120.74 631.75 120.31C633.02 119.87 634.29 119.69 635.56 119.65C636.83 119.61 638.08 119.65 639.37 120.04C640.66 120.44 642.02 121.16 643.31 122.01C644.61 122.87 645.85 123.92 647.12 125.17C648.39 126.42 649.82 128.15 650.93 129.5C652.05 130.86 653.34 132.68 653.82 133.31L653.82 143.04C653.21 143.32 651.85 144.18 650.15 144.74C648.44 145.31 645.99 145.99 643.58 146.45C641.17 146.91 638.1 147.39 635.69 147.5C633.28 147.61 631.31 147.48 629.12 147.11C626.93 146.74 624.64 146.23 622.55 145.27C620.47 144.31 617.96 141.66 616.64 141.33C615.33 141 615.88 141.22 614.67 143.3C613.47 145.38 611.17 150.31 609.42 153.81C607.66 157.31 606.02 160.64 604.16 164.32C602.3 168 599.56 173.3 598.25 175.88C596.93 178.47 597.7 177.42 596.28 179.82C594.85 182.23 591.9 187.16 589.71 190.34C587.52 193.51 585.11 196.29 583.14 198.88C581.17 201.46 579.09 204.46 577.88 205.84C576.68 207.22 576.24 206.93 575.91 207.15Z" fill="#FDCDAC" fill-opacity="0.6"/>
<path d="M575.91 159.07C577.34 158.63 581.5 157.53 584.45 156.44C587.41 155.34 590.58 153.92 593.65 152.5C596.72 151.07 600 149.39 602.85 147.9C605.69 146.41 608.43 144.94 610.73 143.56C613.03 142.18 615.39 140.72 616.64 139.62C617.89 138.53 617.15 137.72 618.22 136.99C619.29 136.27 621.46 135.66 623.08 135.28C624.7 134.91 626.34 134.85 627.94 134.76C629.54 134.67 631.07 134.67 632.67 134.76C634.27 134.85 635.93 135.04 637.53 135.28C639.13 135.53 640.66 135.85 642.26 136.2C643.86 136.55 645.68 136.99 647.12 137.39C648.57 137.78 649.82 138.2 650.93 138.57C652.05 138.94 653.34 139.45 653.82 139.62" fill="none" stroke="#9ED8C3" stroke-opacity="1.0" stroke-width="2.05"/>
<path d="M575.91 162.61C577.34 162.09 581.5 160.71 584.45 159.46C587.41 158.21 590.58 156.72 593.65 155.12C596.72 153.53 600 151.62 602.85 149.87C605.69 148.12 608.65 146.26 610.73 144.61C612.81 142.97 614.08 141.18 615.33 140.01C616.58 138.85 616.93 138.48 618.22 137.65C619.51 136.82 621.46 135.66 623.08 135.02C624.7 134.39 626.34 134.12 627.94 133.84C629.54 133.55 631.07 133.4 632.67 133.31C634.27 133.23 635.93 133.18 637.53 133.31C639.13 133.45 640.66 133.82 642.26 134.1C643.86 134.39 645.68 134.67 647.12 135.02C648.57 135.37 649.82 135.83 650.93 136.2C652.05 136.58 653.34 137.08 653.82 137.26" fill="none" stroke="#FDC8A5" stroke-opacity="1.0" stroke-width="2.05"/>
</g>
<line x1="39.65" y1="11.8" x2="39.65" y2="110.9" stroke="#2a2a2a" stroke-width="1.12"/>
<line x1="39.65" y1="113.6" x2="39.65" y2="212.8" stroke="#2a2a2a" stroke-width="1.12"/>
<line x1="39.1" y1="212.25" x2="187.6" y2="212.25" stroke="#2a2a2a" stroke-width="1.12"/>
<line x1="37.75" y1="21.8" x2="39.65" y2="21.8" stroke="#2a2a2a" stroke-width="1.12"/>
<text x="36.7" y="25.65" font-size="10.6" font-weight="bold" text-anchor="end" >0.5</text>
<line x1="37.75" y1="43" x2="39.65" y2="43" stroke="#2a2a2a" stroke-width="1.12"/>
<text x="36.7" y="46.85" font-size="10.6" font-weight="bold" text-anchor="end" >0.0</text>
<line x1="37.75" y1="64.2" x2="39.65" y2="64.2" stroke="#2a2a2a" stroke-width="1.12"/>
<text x="36.7" y="68.05" font-size="10.6" font-weight="bold" text-anchor="end" >-0.5</text>
<line x1="37.75" y1="85.4" x2="39.65" y2="85.4" stroke="#2a2a2a" stroke-width="1.12"/>
<text x="36.7" y="89.25" font-size="10.6" font-weight="bold" text-anchor="end" >-1.0</text>
<line x1="37.75" y1="106.6" x2="39.65" y2="106.6" stroke="#2a2a2a" stroke-width="1.12"/>
<text x="36.7" y="110.45" font-size="10.6" font-weight="bold" text-anchor="end" >-1.5</text>
<line x1="37.75" y1="140.4" x2="39.65" y2="140.4" stroke="#2a2a2a" stroke-width="1.12"/>
<text x="36.7" y="144.25" font-size="10.6" font-weight="bold" text-anchor="end" >0.0</text>
<line x1="37.75" y1="168.1" x2="39.65" y2="168.1" stroke="#2a2a2a" stroke-width="1.12"/>
<text x="36.7" y="171.95" font-size="10.6" font-weight="bold" text-anchor="end" >-0.5</text>
<line x1="37.75" y1="195.8" x2="39.65" y2="195.8" stroke="#2a2a2a" stroke-width="1.12"/>
<text x="36.7" y="199.65" font-size="10.6" font-weight="bold" text-anchor="end" >-1.0</text>
<line x1="59.7" y1="212.25" x2="59.7" y2="214.15" stroke="#2a2a2a" stroke-width="1.12"/>
<text x="59.7" y="222.7" font-size="10.6" font-weight="bold" text-anchor="middle" >-2</text>
<line x1="86.4" y1="212.25" x2="86.4" y2="214.15" stroke="#2a2a2a" stroke-width="1.12"/>
<text x="86.4" y="222.7" font-size="10.6" font-weight="bold" text-anchor="middle" >-1</text>
<line x1="113.4" y1="212.25" x2="113.4" y2="214.15" stroke="#2a2a2a" stroke-width="1.12"/>
<text x="113.4" y="222.7" font-size="10.6" font-weight="bold" text-anchor="middle" >0</text>
<line x1="140.2" y1="212.25" x2="140.2" y2="214.15" stroke="#2a2a2a" stroke-width="1.12"/>
<text x="140.2" y="222.7" font-size="10.6" font-weight="bold" text-anchor="middle" >1</text>
<line x1="167" y1="212.25" x2="167" y2="214.15" stroke="#2a2a2a" stroke-width="1.12"/>
<text x="167" y="222.7" font-size="10.6" font-weight="bold" text-anchor="middle" >2</text>
<line x1="215.5" y1="11.8" x2="215.5" y2="110.9" stroke="#2a2a2a" stroke-width="1.12"/>
<line x1="215.5" y1="113.6" x2="215.5" y2="212.8" stroke="#2a2a2a" stroke-width="1.12"/>
<line x1="213.6" y1="20.3" x2="215.5" y2="20.3" stroke="#2a2a2a" stroke-width="1.12"/>
<text x="212.55" y="24.15" font-size="10.6" font-weight="bold" text-anchor="end" >1</text>
<line x1="213.6" y1="46.9" x2="215.5" y2="46.9" stroke="#2a2a2a" stroke-width="1.12"/>
<text x="212.55" y="50.75" font-size="10.6" font-weight="bold" text-anchor="end" >0</text>
<line x1="213.6" y1="73.3" x2="215.5" y2="73.3" stroke="#2a2a2a" stroke-width="1.12"/>
<text x="212.55" y="77.15" font-size="10.6" font-weight="bold" text-anchor="end" >-1</text>
<line x1="213.6" y1="99.8" x2="215.5" y2="99.8" stroke="#2a2a2a" stroke-width="1.12"/>
<text x="212.55" y="103.65" font-size="10.6" font-weight="bold" text-anchor="end" >-2</text>
<line x1="213.6" y1="122" x2="215.5" y2="122" stroke="#2a2a2a" stroke-width="1.12"/>
<text x="212.55" y="125.85" font-size="10.6" font-weight="bold" text-anchor="end" >0.5</text>
<line x1="213.6" y1="140.8" x2="215.5" y2="140.8" stroke="#2a2a2a" stroke-width="1.12"/>
<text x="212.55" y="144.65" font-size="10.6" font-weight="bold" text-anchor="end" >0.0</text>
<line x1="213.6" y1="159.6" x2="215.5" y2="159.6" stroke="#2a2a2a" stroke-width="1.12"/>
<text x="212.55" y="163.45" font-size="10.6" font-weight="bold" text-anchor="end" >-0.5</text>
<line x1="213.6" y1="178.7" x2="215.5" y2="178.7" stroke="#2a2a2a" stroke-width="1.12"/>
<text x="212.55" y="182.55" font-size="10.6" font-weight="bold" text-anchor="end" >-1.0</text>
<line x1="213.6" y1="197.8" x2="215.5" y2="197.8" stroke="#2a2a2a" stroke-width="1.12"/>
<text x="212.55" y="201.65" font-size="10.6" font-weight="bold" text-anchor="end" >-1.5</text>
<line x1="215" y1="212.25" x2="301" y2="212.25" stroke="#2a2a2a" stroke-width="1.12"/>
<line x1="226.7" y1="212.25" x2="226.7" y2="214.15" stroke="#2a2a2a" stroke-width="1.12"/>
<text x="226.7" y="222.7" font-size="10.6" font-weight="bold" text-anchor="middle" >-2</text>
<line x1="242.25" y1="212.25" x2="242.25" y2="214.15" stroke="#2a2a2a" stroke-width="1.12"/>
<text x="242.25" y="222.7" font-size="10.6" font-weight="bold" text-anchor="middle" >-1</text>
<line x1="257.8" y1="212.25" x2="257.8" y2="214.15" stroke="#2a2a2a" stroke-width="1.12"/>
<text x="257.8" y="222.7" font-size="10.6" font-weight="bold" text-anchor="middle" >0</text>
<line x1="273.35" y1="212.25" x2="273.35" y2="214.15" stroke="#2a2a2a" stroke-width="1.12"/>
<text x="273.35" y="222.7" font-size="10.6" font-weight="bold" text-anchor="middle" >1</text>
<line x1="288.9" y1="212.25" x2="288.9" y2="214.15" stroke="#2a2a2a" stroke-width="1.12"/>
<text x="288.9" y="222.7" font-size="10.6" font-weight="bold" text-anchor="middle" >2</text>
<text x="258" y="7.75" font-size="10.2" font-weight="bold" text-anchor="middle" >40</text>
<line x1="304.2" y1="212.25" x2="390.2" y2="212.25" stroke="#2a2a2a" stroke-width="1.12"/>
<line x1="315.92" y1="212.25" x2="315.92" y2="214.15" stroke="#2a2a2a" stroke-width="1.12"/>
<text x="315.92" y="222.7" font-size="10.6" font-weight="bold" text-anchor="middle" >-2</text>
<line x1="331.47" y1="212.25" x2="331.47" y2="214.15" stroke="#2a2a2a" stroke-width="1.12"/>
<text x="331.47" y="222.7" font-size="10.6" font-weight="bold" text-anchor="middle" >-1</text>
<line x1="347.02" y1="212.25" x2="347.02" y2="214.15" stroke="#2a2a2a" stroke-width="1.12"/>
<text x="347.02" y="222.7" font-size="10.6" font-weight="bold" text-anchor="middle" >0</text>
<line x1="362.57" y1="212.25" x2="362.57" y2="214.15" stroke="#2a2a2a" stroke-width="1.12"/>
<text x="362.57" y="222.7" font-size="10.6" font-weight="bold" text-anchor="middle" >1</text>
<line x1="378.12" y1="212.25" x2="378.12" y2="214.15" stroke="#2a2a2a" stroke-width="1.12"/>
<text x="378.12" y="222.7" font-size="10.6" font-weight="bold" text-anchor="middle" >2</text>
<text x="347.2" y="7.75" font-size="10.2" font-weight="bold" text-anchor="middle" >50</text>
<line x1="393.4" y1="212.25" x2="479.4" y2="212.25" stroke="#2a2a2a" stroke-width="1.12"/>
<line x1="405.14" y1="212.25" x2="405.14" y2="214.15" stroke="#2a2a2a" stroke-width="1.12"/>
<text x="405.14" y="222.7" font-size="10.6" font-weight="bold" text-anchor="middle" >-2</text>
<line x1="420.69" y1="212.25" x2="420.69" y2="214.15" stroke="#2a2a2a" stroke-width="1.12"/>
<text x="420.69" y="222.7" font-size="10.6" font-weight="bold" text-anchor="middle" >-1</text>
<line x1="436.24" y1="212.25" x2="436.24" y2="214.15" stroke="#2a2a2a" stroke-width="1.12"/>
<text x="436.24" y="222.7" font-size="10.6" font-weight="bold" text-anchor="middle" >0</text>
<line x1="451.79" y1="212.25" x2="451.79" y2="214.15" stroke="#2a2a2a" stroke-width="1.12"/>
<text x="451.79" y="222.7" font-size="10.6" font-weight="bold" text-anchor="middle" >1</text>
<line x1="467.34" y1="212.25" x2="467.34" y2="214.15" stroke="#2a2a2a" stroke-width="1.12"/>
<text x="467.34" y="222.7" font-size="10.6" font-weight="bold" text-anchor="middle" >2</text>
<text x="436.4" y="7.75" font-size="10.2" font-weight="bold" text-anchor="middle" >60</text>
<line x1="482.6" y1="212.25" x2="568.6" y2="212.25" stroke="#2a2a2a" stroke-width="1.12"/>
<line x1="494.36" y1="212.25" x2="494.36" y2="214.15" stroke="#2a2a2a" stroke-width="1.12"/>
<text x="494.36" y="222.7" font-size="10.6" font-weight="bold" text-anchor="middle" >-2</text>
<line x1="509.91" y1="212.25" x2="509.91" y2="214.15" stroke="#2a2a2a" stroke-width="1.12"/>
<text x="509.91" y="222.7" font-size="10.6" font-weight="bold" text-anchor="middle" >-1</text>
<line x1="525.46" y1="212.25" x2="525.46" y2="214.15" stroke="#2a2a2a" stroke-width="1.12"/>
<text x="525.46" y="222.7" font-size="10.6" font-weight="bold" text-anchor="middle" >0</text>
<line x1="541.01" y1="212.25" x2="541.01" y2="214.15" stroke="#2a2a2a" stroke-width="1.12"/>
<text x="541.01" y="222.7" font-size="10.6" font-weight="bold" text-anchor="middle" >1</text>
<line x1="556.56" y1="212.25" x2="556.56" y2="214.15" stroke="#2a2a2a" stroke-width="1.12"/>
<text x="556.56" y="222.7" font-size="10.6" font-weight="bold" text-anchor="middle" >2</text>
<text x="525.6" y="7.75" font-size="10.2" font-weight="bold" text-anchor="middle" >70</text>
<line x1="571.8" y1="212.25" x2="657.8" y2="212.25" stroke="#2a2a2a" stroke-width="1.12"/>
<line x1="583.58" y1="212.25" x2="583.58" y2="214.15" stroke="#2a2a2a" stroke-width="1.12"/>
<text x="583.58" y="222.7" font-size="10.6" font-weight="bold" text-anchor="middle" >-2</text>
<line x1="599.13" y1="212.25" x2="599.13" y2="214.15" stroke="#2a2a2a" stroke-width="1.12"/>
<text x="599.13" y="222.7" font-size="10.6" font-weight="bold" text-anchor="middle" >-1</text>
<line x1="614.68" y1="212.25" x2="614.68" y2="214.15" stroke="#2a2a2a" stroke-width="1.12"/>
<text x="614.68" y="222.7" font-size="10.6" font-weight="bold" text-anchor="middle" >0</text>
<line x1="630.23" y1="212.25" x2="630.23" y2="214.15" stroke="#2a2a2a" stroke-width="1.12"/>
<text x="630.23" y="222.7" font-size="10.6" font-weight="bold" text-anchor="middle" >1</text>
<line x1="645.78" y1="212.25" x2="645.78" y2="214.15" stroke="#2a2a2a" stroke-width="1.12"/>
<text x="645.78" y="222.7" font-size="10.6" font-weight="bold" text-anchor="middle" >2</text>
<text x="614.8" y="7.75" font-size="10.2" font-weight="bold" text-anchor="middle" >80</text>
<text x="-1.4" y="12.1" font-size="16.8" font-weight="normal" text-anchor="start" stroke="#1a1a1a" stroke-width="0.85" stroke-linejoin="round" fill="#1a1a1a" letter-spacing="1.2">a)</text>
<text x="191.1" y="12.1" font-size="16.8" font-weight="normal" text-anchor="start" stroke="#1a1a1a" stroke-width="0.85" stroke-linejoin="round" fill="#1a1a1a" letter-spacing="1.2">b)</text>
<text x="113.1" y="233.8" font-size="10.4" font-weight="normal" text-anchor="middle" >&#916; Brain</text>
<text x="436.5" y="233.8" font-size="10.4" font-weight="normal" text-anchor="middle" >&#916; Brain</text>
<text transform="translate(10.9 112.35) rotate(-90)" font-size="10.4" text-anchor="middle">&#916; Memory</text>
<text transform="translate(670.1 61) rotate(-90)" font-size="11.3" font-weight="bold" text-anchor="middle">Left</text>
<text transform="translate(682.7 61) rotate(-90)" font-size="11.3" font-weight="bold" text-anchor="middle">Hippocampus</text>
<text transform="translate(670.1 162.8) rotate(-90)" font-size="11.3" font-weight="bold" text-anchor="middle">Right</text>
<text transform="translate(682.7 162.8) rotate(-90)" font-size="11.3" font-weight="bold" text-anchor="middle">Hippocampus</text>
<rect x="54" y="247.7" width="10" height="10" fill="#B3E2CD" fill-opacity="0.6"/>
<line x1="54.8" y1="252.8" x2="63.2" y2="252.8" stroke="#9ED8C3" stroke-opacity="1.0" stroke-width="2.05"/>
<text x="68.3" y="256.5" font-size="10.15" font-weight="bold" text-anchor="start" >non-carrier</text>
<rect x="126.9" y="247.7" width="10" height="10" fill="#FDCDAC" fill-opacity="0.6"/>
<line x1="127.7" y1="252.8" x2="136.1" y2="252.8" stroke="#FDC8A5" stroke-opacity="1.0" stroke-width="2.05"/>
<text x="141.2" y="256.5" font-size="10.15" font-weight="bold" text-anchor="start" >carrier</text>
<rect x="377" y="247.7" width="10" height="10" fill="#B3E2CD" fill-opacity="0.6"/>
<line x1="377.8" y1="252.8" x2="386.2" y2="252.8" stroke="#9ED8C3" stroke-opacity="1.0" stroke-width="2.05"/>
<text x="391.3" y="256.5" font-size="10.15" font-weight="bold" text-anchor="start" >non-carrier</text>
<rect x="449.9" y="247.7" width="10" height="10" fill="#FDCDAC" fill-opacity="0.6"/>
<line x1="450.7" y1="252.8" x2="459.1" y2="252.8" stroke="#FDC8A5" stroke-opacity="1.0" stroke-width="2.05"/>
<text x="464.2" y="256.5" font-size="10.15" font-weight="bold" text-anchor="start" >carrier</text>
</svg>
</body>
</html>
